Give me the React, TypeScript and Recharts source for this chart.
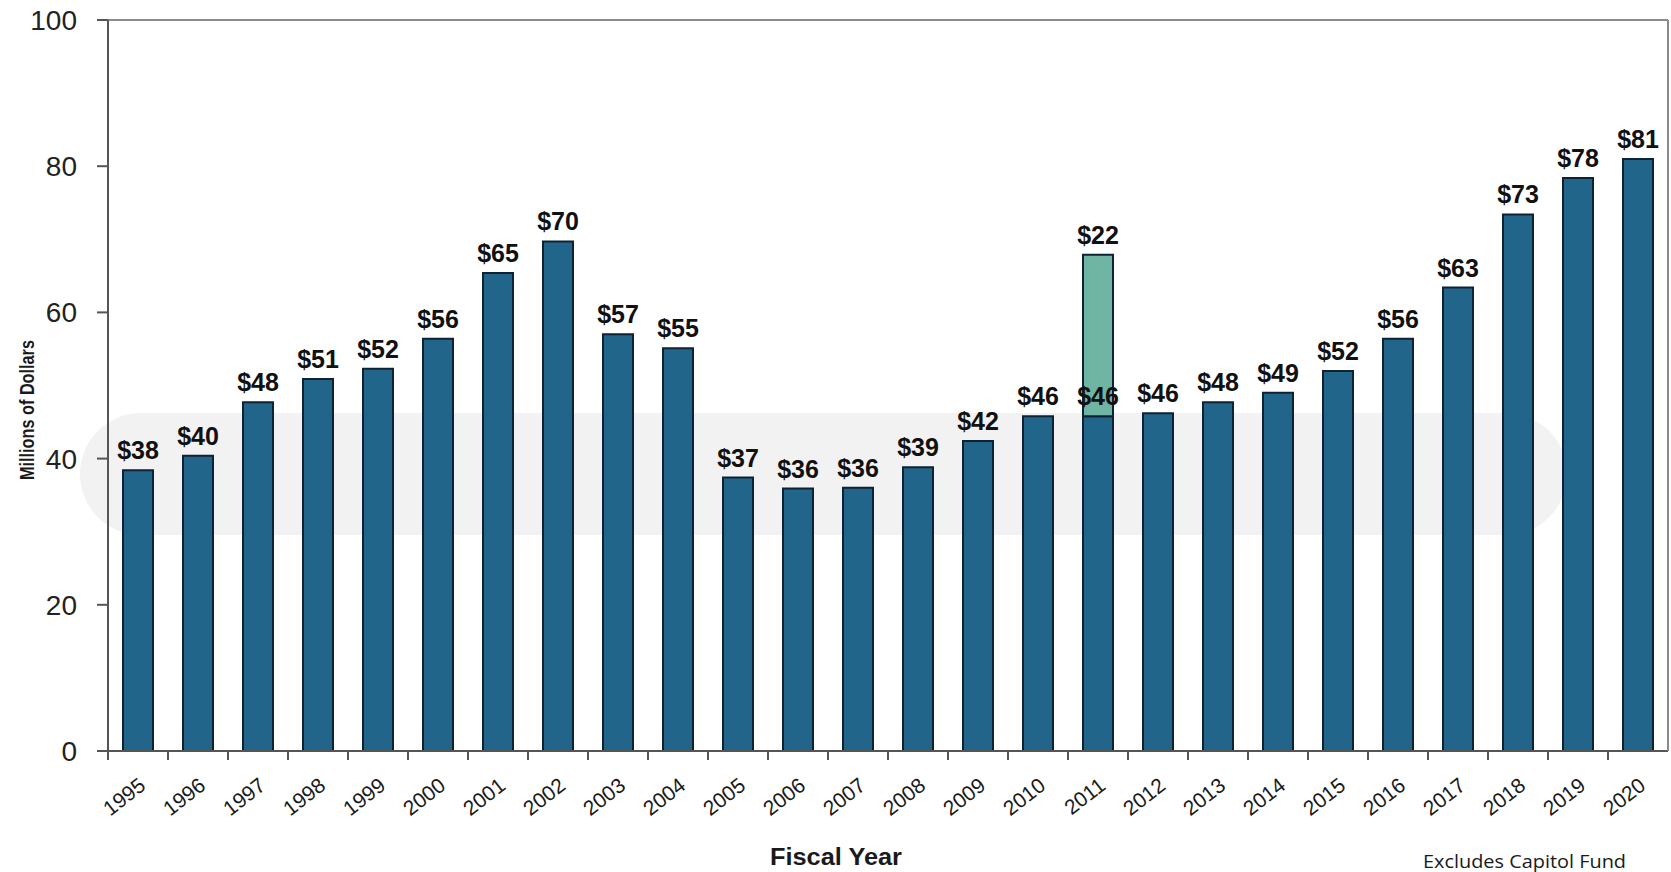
import { Bar, BarChart, LabelList, ReferenceLine, XAxis, YAxis } from "recharts";

document.body.style.margin = "0";

const years = [
  "1995", "1996", "1997", "1998", "1999", "2000", "2001", "2002", "2003", "2004", "2005", "2006", "2007",
  "2008", "2009", "2010", "2011", "2012", "2013", "2014", "2015", "2016", "2017", "2018", "2019", "2020",
];
// millions of dollars
const distributions = [
  38.4, 40.4, 47.7, 50.9, 52.3, 56.4, 65.4, 69.7, 57.0, 55.1, 37.4, 35.9, 36.0,
  38.8, 42.4, 45.8, 45.8, 46.2, 47.7, 49.0, 52.0, 56.4, 63.4, 73.4, 78.4, 81.0,
];
// one-off extra on top of FY2011
const oneTime = [0, 0, 0, 0, 0, 0, 0, 0, 0, 0, 0, 0, 0, 0, 0, 0, 22.1, 0, 0, 0, 0, 0, 0, 0, 0, 0];
const yTicks = [0, 20, 40, 60, 80, 100];

const data = years.map((year, i) => ({ year, base: distributions[i], extra: oneTime[i] }));

const W = 1671;
const H = 872;
const HALF_BAND = 30;

function YearTick(props: any) {
  const { x, y, payload } = props;
  const half = payload?.offset || HALF_BAND;
  return (
    <g>
      <line x1={x - half} y1={y - 9} x2={x - half} y2={y} stroke="#555" strokeWidth={2} />
      <text
        transform={`translate(${x + 9},${y + 28}) rotate(-38)`}
        textAnchor="end"
        fontFamily="'Liberation Sans', Arial, sans-serif"
        fontSize={21}
        fill="#1a1a1a"
      >
        {payload.value}
      </text>
    </g>
  );
}

function DollarLabel(props: any) {
  const { x, y, width, value } = props;
  if (!value) return null;
  return (
    <text
      x={x + width / 2}
      y={y - 11}
      textAnchor="middle"
      fontFamily="'Liberation Sans', Arial, sans-serif"
      fontWeight="bold"
      fontSize={25}
      fill="#111"
    >
      ${Math.round(value)}
    </text>
  );
}

export default function App() {
  return (
    <div style={{ position: "relative", width: W, height: H, background: "#fff", overflow: "hidden" }}>
      {/* faint watermark band behind the plot */}
      <svg width={W} height={H} style={{ position: "absolute", left: 0, top: 0 }}>
        <rect x={80} y={413} width={1487} height={122} rx={61} fill="#f2f2f2" />
      </svg>
      <div style={{ position: "absolute", left: 0, top: 0 }}>
        <BarChart width={W} height={H} data={data} margin={{ top: 20, right: 2, left: 0, bottom: 0 }} barSize={30}>
          <XAxis
            dataKey="year"
            interval={0}
            height={121}
            tickSize={9}
            tickMargin={0}
            tickLine={false}
            tick={<YearTick />}
            axisLine={{ stroke: "#555", strokeWidth: 2 }}
          />
          <YAxis
            domain={[0, 100]}
            ticks={yTicks}
            width={108}
            tickSize={11}
            tickMargin={20}
            tick={{ fill: "#222", fontSize: 28, fontFamily: "'Liberation Sans', Arial, sans-serif" }}
            tickLine={{ stroke: "#555", strokeWidth: 2 }}
            axisLine={{ stroke: "#555", strokeWidth: 2 }}
          />
          <YAxis
            yAxisId="right"
            orientation="right"
            domain={[0, 100]}
            width={1}
            tick={false}
            tickLine={false}
            axisLine={{ stroke: "#8a8a8a", strokeWidth: 2 }}
          />
          <ReferenceLine y={100} stroke="#8a8a8a" strokeWidth={2} />
          <Bar dataKey="base" stackId="a" fill="#21658a" stroke="#0f2233" strokeWidth={2} isAnimationActive={false}>
            <LabelList dataKey="base" content={<DollarLabel />} />
          </Bar>
          <Bar dataKey="extra" stackId="a" fill="#70b4a4" stroke="#0f2233" strokeWidth={2} isAnimationActive={false}>
            <LabelList dataKey="extra" content={<DollarLabel />} />
          </Bar>
        </BarChart>
      </div>
      <svg width={W} height={H} style={{ position: "absolute", left: 0, top: 0, pointerEvents: "none" }}>
        <text
          transform="translate(34,410) rotate(-90)"
          textAnchor="middle"
          fontFamily="'Liberation Sans Narrow', 'Liberation Sans', sans-serif"
          fontWeight="bold"
          fontSize={21}
          fill="#1a1a1a"
          textLength={140}
          lengthAdjust="spacingAndGlyphs"
        >
          Millions of Dollars
        </text>
        <text
          x={836}
          y={865}
          textAnchor="middle"
          fontFamily="'Liberation Sans', Arial, sans-serif"
          fontWeight="bold"
          fontSize={23}
          fill="#1a1a1a"
          textLength={132}
          lengthAdjust="spacingAndGlyphs"
        >
          Fiscal Year
        </text>
        <text
          x={1423}
          y={868}
          fontFamily="'Open Sans', sans-serif"
          fontSize={18}
          fill="#1a1a1a"
          textLength={203}
          lengthAdjust="spacingAndGlyphs"
        >
          Excludes Capitol Fund
        </text>
      </svg>
    </div>
  );
}
